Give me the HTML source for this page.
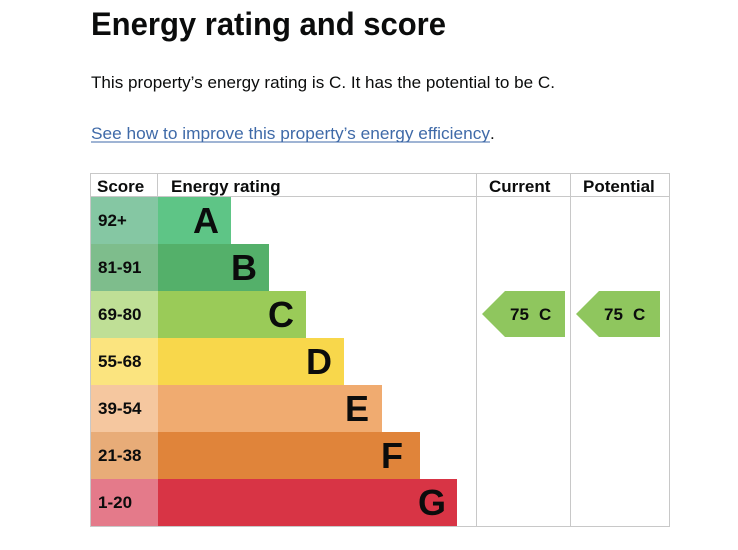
<!DOCTYPE html>
<html><head><meta charset="utf-8"><style>
html,body{margin:0;padding:0;background:#fff;width:738px;height:550px;overflow:hidden}
svg{display:block}
</style></head><body>
<svg width="738" height="550" xmlns="http://www.w3.org/2000/svg" font-family="Liberation Sans, Arial, sans-serif">
<text x="91" y="35" font-size="32" font-weight="bold" fill="#0b0c0c" textLength="355" lengthAdjust="spacingAndGlyphs">Energy rating and score</text>
<text x="91" y="88" font-size="17" fill="#0b0c0c" textLength="464" lengthAdjust="spacingAndGlyphs">This property’s energy rating is C. It has the potential to be C.</text>
<text x="91" y="139" font-size="17" fill="#3f6aa8" textLength="399" lengthAdjust="spacingAndGlyphs">See how to improve this property’s energy efficiency</text>
<line x1="91" y1="142" x2="490" y2="142" stroke="#3f6aa8" stroke-width="1"/>
<text x="490" y="139" font-size="17" fill="#0b0c0c">.</text>
<g stroke="#c8c8c8" stroke-width="1" fill="none">
<rect x="90.5" y="173.5" width="579" height="353"/>
<line x1="90" y1="196.5" x2="670" y2="196.5"/>
<line x1="157.5" y1="173" x2="157.5" y2="197"/>
<line x1="476.5" y1="173" x2="476.5" y2="527"/>
<line x1="570.5" y1="173" x2="570.5" y2="527"/>
</g>
<g font-size="17" font-weight="bold" fill="#0b0c0c">
<text x="97" y="192">Score</text>
<text x="171" y="192">Energy rating</text>
<text x="489" y="192">Current</text>
<text x="583" y="192">Potential</text>
</g>
<rect x="91" y="197" width="67" height="47" fill="#85c7a3"/>
<rect x="91" y="244" width="67" height="47" fill="#7ebd8c"/>
<rect x="91" y="291" width="67" height="47" fill="#bfdf96"/>
<rect x="91" y="338" width="67" height="47" fill="#fbe47f"/>
<rect x="91" y="385" width="67" height="47" fill="#f5c79f"/>
<rect x="91" y="432" width="67" height="47" fill="#e8ac78"/>
<rect x="91" y="479" width="67" height="47" fill="#e47a8a"/>
<rect x="158" y="197" width="73" height="47" fill="#5ec586"/>
<rect x="158" y="244" width="111" height="47" fill="#54b06a"/>
<rect x="158" y="291" width="148" height="47" fill="#9acb58"/>
<rect x="158" y="338" width="186" height="47" fill="#f8d74b"/>
<rect x="158" y="385" width="224" height="47" fill="#f0ab70"/>
<rect x="158" y="432" width="262" height="47" fill="#e0843a"/>
<rect x="158" y="479" width="299" height="47" fill="#d83445"/>
<g font-size="17" font-weight="bold" fill="#0b0c0c">
<text x="98" y="226">92+</text>
<text x="98" y="273">81-91</text>
<text x="98" y="320">69-80</text>
<text x="98" y="367">55-68</text>
<text x="98" y="414">39-54</text>
<text x="98" y="461">21-38</text>
<text x="98" y="508">1-20</text>
</g>
<g font-size="36" font-weight="bold" fill="#0b0c0c" text-anchor="end">
<text x="219" y="233">A</text>
<text x="257" y="280">B</text>
<text x="294" y="327">C</text>
<text x="332" y="374">D</text>
<text x="369" y="421">E</text>
<text x="403" y="468">F</text>
<text x="446" y="515">G</text>
</g>
<polygon points="482,314 505,291 565,291 565,337 505,337" fill="#8fc65e"/>
<polygon points="576,314 599,291 660,291 660,337 599,337" fill="#8fc65e"/>
<g font-size="17" font-weight="bold" fill="#0b0c0c">
<text x="510" y="320">75</text><text x="539" y="320">C</text>
<text x="604" y="320">75</text><text x="633" y="320">C</text>
</g>
</svg>
</body></html>
